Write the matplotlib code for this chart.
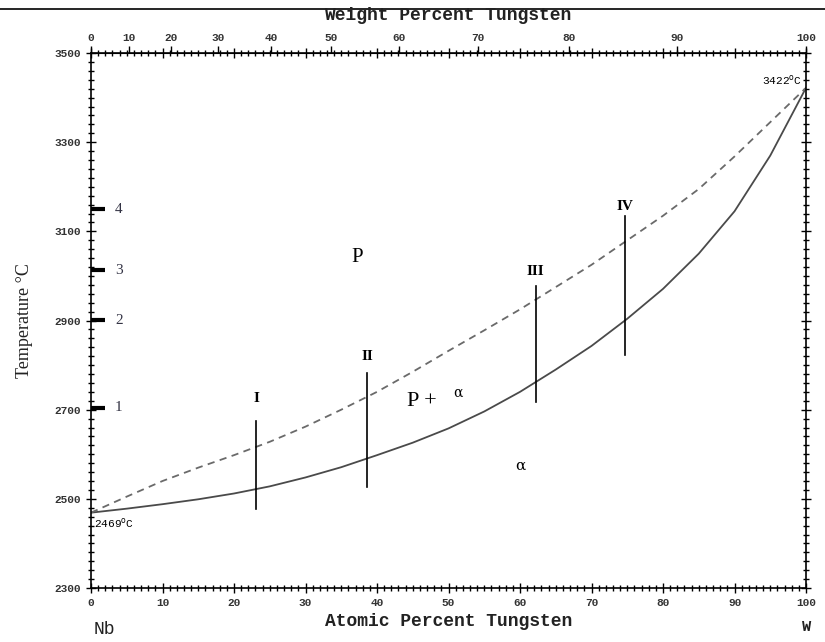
import numpy as np
import matplotlib.pyplot as plt
from matplotlib.lines import Line2D
from matplotlib.ticker import MultipleLocator

# solidus (solid) and liquidus (dashed), atomic % W vs temperature
solid_x = [0, 5, 10, 15, 20, 25, 30, 35, 40, 45, 50, 55, 60, 65, 70, 75, 80, 85, 90, 95, 100]
solid_t = [2469, 2478, 2488, 2499, 2512, 2528, 2548, 2571, 2598, 2626, 2658, 2696, 2740, 2790,
           2843, 2904, 2971, 3050, 3145, 3270, 3422]

dash_x = [0, 5, 10, 15, 20, 25, 30, 35, 40, 45, 50, 55, 60, 65, 70, 75, 80, 85, 90, 95, 100]
dash_t = [2469, 2505, 2540, 2570, 2598, 2628, 2662, 2700, 2740, 2785, 2832, 2878, 2925, 2975,
          3025, 3080, 3135, 3195, 3268, 3345, 3422]

# composition lines I..IV
comp_names = ["I", "II", "III", "IV"]
comp_x = [23.1, 38.6, 62.2, 74.7]
comp_top = [2675, 2782, 2977, 3134]
comp_bottom = [2477, 2526, 2717, 2823]
comp_label_t = [2726, 2820, 3009, 3155]

# temperature marks 1..4 on the left
mark_names = ["1", "2", "3", "4"]
mark_t = [2704, 2901, 3013, 3150]

temp_ticks = [2300, 2500, 2700, 2900, 3100, 3300, 3500]
wt_ticks = [0, 10, 20, 30, 40, 50, 60, 70, 80, 90, 100]

M_W = 183.84
M_NB = 92.906


def at_to_wt(a):
    a = np.clip(np.asarray(a, dtype=float), 0, 100)
    return a * M_W / (a * M_W + (100 - a) * M_NB) * 100


def wt_to_at(w):
    w = np.clip(np.asarray(w, dtype=float), 0, 100)
    return (w / M_W) / (w / M_W + (100 - w) / M_NB) * 100


mono = "Liberation Mono"
serif = "Liberation Serif"

fig = plt.figure(figsize=(8.25, 6.42), dpi=100)
ax = fig.add_axes([0.1103, 0.0841, 0.8667, 0.8333])

ax.plot(solid_x, solid_t, color="#4a4a4a", lw=1.3)
ax.plot(dash_x, dash_t, color="#6a6a6a", lw=1.3, ls=(0, (4, 3)))

for name, x, t0, t1, tl in zip(comp_names, comp_x, comp_bottom, comp_top, comp_label_t):
    ax.plot([x, x], [t0, t1], color="black", lw=1.2)
    ax.text(x, tl, name, family=serif, fontweight="bold", fontsize=11,
            ha="center", va="center")

for name, t in zip(mark_names, mark_t):
    ax.plot([0, 2], [t, t], color="black", lw=3, solid_capstyle="butt")
    ax.text(3.9, t, name, family=serif, fontsize=11, ha="center", va="center",
            color="#333344")

ax.text(37.2, 3042, "P", family=serif, fontsize=15, ha="center", va="center")
ax.text(46.3, 2718, "P +", family=serif, fontsize=16, ha="center", va="center")
ax.text(51.3, 2738, "\u03b1", family="DejaVu Serif", fontsize=10, ha="center", va="center")
ax.text(60.1, 2574, "\u03b1", family="DejaVu Serif", fontsize=11, ha="center", va="center")

ax.text(99.4, 3439, "3422$^{\\rm o}$C", family=mono, fontsize=8, ha="right", va="center")
ax.text(0.4, 2446, "2469$^{\\rm o}$C", family=mono, fontsize=8, ha="left", va="center")

ax.set_xlim(0, 100)
ax.set_ylim(2300, 3500)
ax.xaxis.set_major_locator(MultipleLocator(10))
ax.xaxis.set_minor_locator(MultipleLocator(1))
ax.set_yticks(temp_ticks)
ax.yaxis.set_minor_locator(MultipleLocator(20))
ax.tick_params(which="both", direction="inout", top=True, right=True,
               labelsize=8, width=1)
ax.tick_params(which="major", length=7)
ax.tick_params(which="minor", length=4)
for lab in ax.get_xticklabels() + ax.get_yticklabels():
    lab.set_family(mono)
    lab.set_fontweight("bold")
    lab.set_color("#333333")

for sp in ax.spines.values():
    sp.set_linewidth(1.2)

ax.set_xlabel("Atomic Percent Tungsten", family=mono, fontweight="bold",
              fontsize=13, color="#222222", labelpad=4)
ax.set_ylabel("Temperature \u00b0C", family=serif, fontsize=13,
              color="#222222", labelpad=16)

top = ax.secondary_xaxis("top", functions=(at_to_wt, wt_to_at))
top.set_xticks(wt_ticks)
top.tick_params(direction="out", length=5, width=1, labelsize=8, pad=2)
for lab in top.get_xticklabels():
    lab.set_family(mono)
    lab.set_fontweight("bold")
    lab.set_color("#333333")

fig.text(0.543, 1 - 16 / 642, "Weight Percent Tungsten", family=mono,
         fontweight="bold", fontsize=13, ha="center", va="center", color="#222222")
fig.text(0.127, 0.019, "Nb", family=mono, fontsize=13, ha="center",
         va="center", color="#222222")
fig.text(0.977, 0.023, "W", family=mono, fontweight="bold", fontsize=11,
         ha="center", va="center", color="#222222")

fig.add_artist(Line2D([0, 1], [1 - 9 / 642, 1 - 9 / 642], color="black", lw=1.2,
                      transform=fig.transFigure))

fig.savefig("out.png", dpi=100)
